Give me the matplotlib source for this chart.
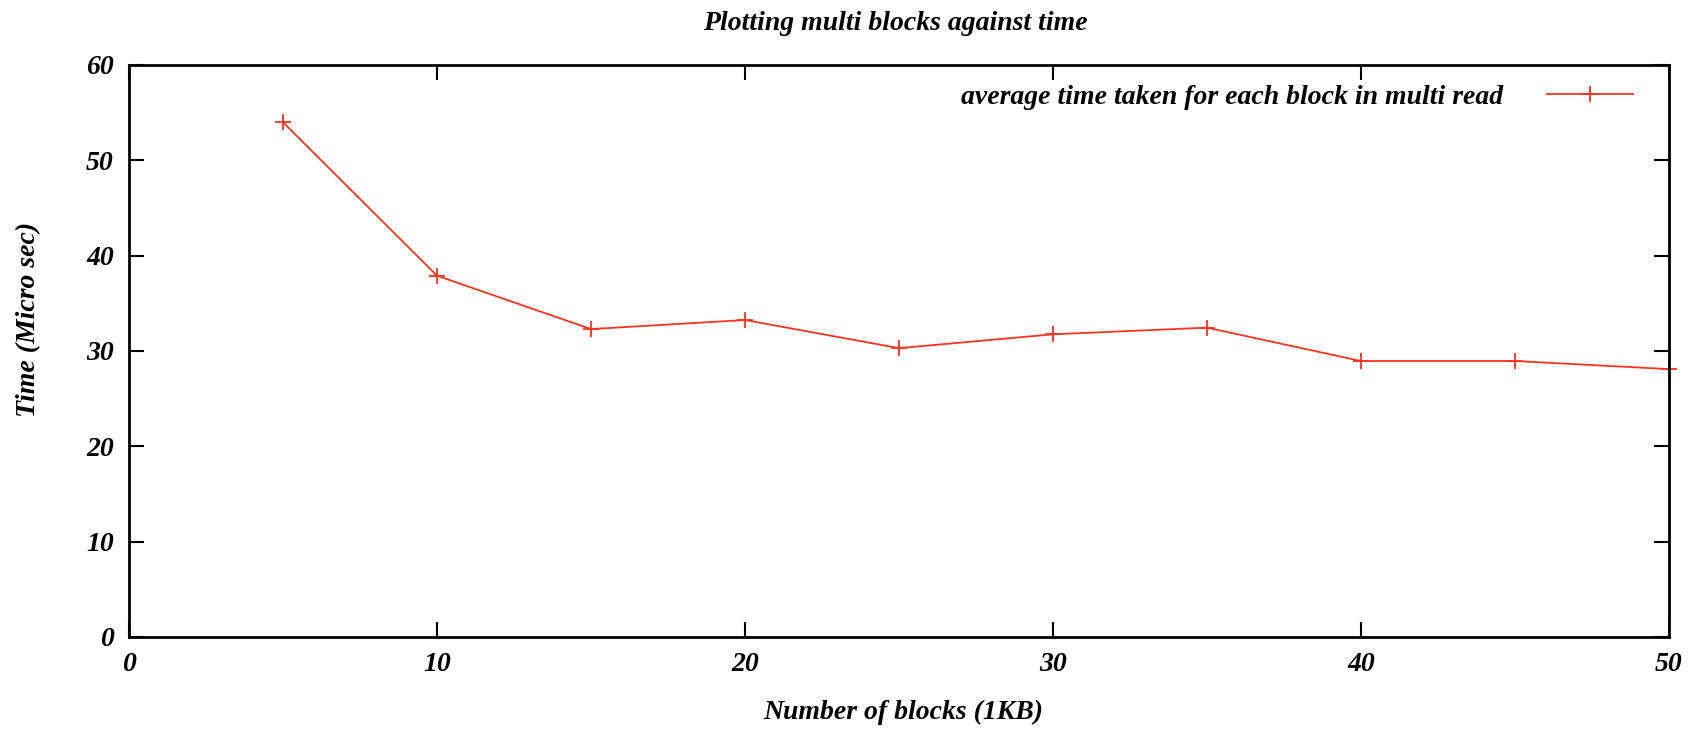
import matplotlib
matplotlib.use("Agg")
import matplotlib.pyplot as plt

# block counts and average time per block
blocks = [5, 10, 15, 20, 25, 30, 35, 40, 45, 50]
avg_time = [54.0, 37.9, 32.3, 33.25, 30.3, 31.75, 32.45, 28.95, 28.95, 28.1]
xticks = [0, 10, 20, 30, 40, 50]
yticks = [0, 10, 20, 30, 40, 50, 60]

plt.rcParams['font.family'] = ['Liberation Serif', 'DejaVu Serif']
plt.rcParams['font.weight'] = 'bold'
plt.rcParams['font.style'] = 'italic'
fs = 20

W, H = 1703, 729
fig = plt.figure(figsize=(W / 100, H / 100), dpi=100)
ax = fig.add_axes([129 / W, 1 - 637 / H, (1669 - 129) / W, (637 - 65) / H])

ax.plot(blocks, avg_time, color='#ff3322', lw=1.3, marker='+', markersize=12,
        markeredgewidth=1.3, label='average time taken for each block in multi read',
        clip_on=False)

ax.set_xlim(0, 50)
ax.set_ylim(0, 60)
ax.set_xticks(xticks)
ax.set_yticks(yticks)
ax.tick_params(direction='in', length=11, width=1.5, top=True, right=True,
               labelsize=fs, pad=11)
for s in ax.spines.values():
    s.set_linewidth(2)

leg = ax.legend(loc='upper right', bbox_to_anchor=(0.9895, 1.0), frameon=False,
                markerfirst=False, fontsize=fs, handlelength=3.1,
                handletextpad=1.6, borderaxespad=0.3)

fig.text(895 / W, 1 - 24 / H, 'Plotting multi blocks against time', ha='center', va='center', fontsize=fs)
fig.text(903 / W, 1 - 712 / H, 'Number of blocks (1KB)', ha='center', va='center', fontsize=fs)
fig.text(29 / W, 1 - 319 / H, 'Time (Micro sec)', ha='center', va='center', rotation=90, fontsize=fs)

fig.savefig('out.png', dpi=100)
